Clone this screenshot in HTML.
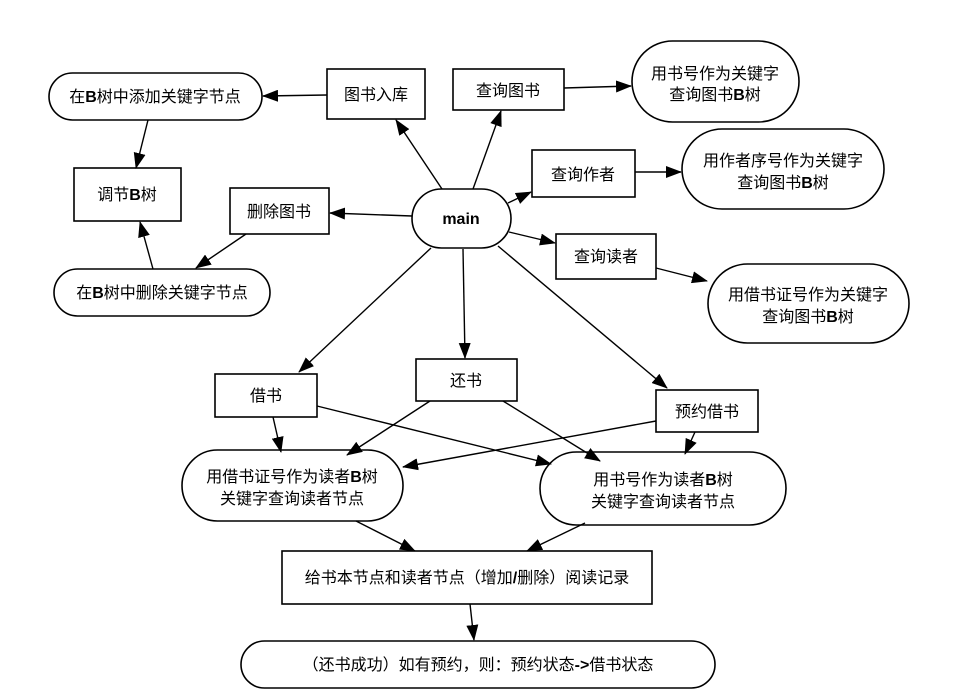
<!DOCTYPE html>
<html><head><meta charset="utf-8"><style>
html,body{margin:0;padding:0;background:#fff;}
svg{display:block;}
text{font-family:"Liberation Sans","Noto Sans CJK SC",sans-serif;font-size:16px;fill:#000;}
.b{font-weight:bold;}
</style></head><body>
<svg width="979" height="694" viewBox="0 0 979 694" xmlns="http://www.w3.org/2000/svg">
<defs><marker id="a" viewBox="0 0 16 12" refX="15" refY="6" markerWidth="16" markerHeight="12" markerUnits="userSpaceOnUse" orient="auto"><path d="M0,0 L16,6 L0,12 z" fill="#000"/></marker></defs>
<g fill="#fff" stroke="#000" stroke-width="1.6">
<rect x="49" y="73" width="213" height="47" rx="23.5"/>
<rect x="327" y="69" width="98" height="50"/>
<rect x="74" y="168" width="107" height="53"/>
<rect x="230" y="188" width="99" height="46"/>
<rect x="412" y="189" width="99" height="59" rx="29.5"/>
<rect x="54" y="269" width="216" height="47" rx="23.5"/>
<rect x="453" y="69" width="111" height="41"/>
<rect x="632" y="41" width="167" height="81" rx="40.5"/>
<rect x="532" y="150" width="103" height="47"/>
<rect x="682" y="129" width="202" height="80" rx="40"/>
<rect x="556" y="234" width="100" height="45"/>
<rect x="708" y="264" width="201" height="79" rx="39.5"/>
<rect x="215" y="374" width="102" height="43"/>
<rect x="416" y="359" width="101" height="42"/>
<rect x="656" y="390" width="102" height="42"/>
<rect x="182" y="450" width="221" height="71" rx="35.5"/>
<rect x="540" y="452" width="246" height="73" rx="36.5"/>
<rect x="282" y="551" width="370" height="53"/>
<rect x="241" y="641" width="474" height="47" rx="23.5"/>
</g>
<g stroke="#000" stroke-width="1.4" fill="none" marker-end="url(#a)">
<line x1="327" y1="95" x2="263" y2="96"/>
<line x1="148" y1="120" x2="136" y2="168"/>
<line x1="153" y1="269" x2="140" y2="222"/>
<line x1="246" y1="234" x2="196" y2="268"/>
<line x1="412" y1="216" x2="330" y2="213"/>
<line x1="442" y1="189" x2="396" y2="120"/>
<line x1="473" y1="189" x2="501" y2="111"/>
<line x1="508" y1="203" x2="531" y2="192"/>
<line x1="509" y1="232" x2="555" y2="243"/>
<line x1="564" y1="88" x2="631" y2="86"/>
<line x1="635" y1="172" x2="681" y2="172"/>
<line x1="656" y1="268" x2="707" y2="281"/>
<line x1="431" y1="248" x2="299" y2="372"/>
<line x1="463" y1="249" x2="465" y2="358"/>
<line x1="498" y1="246" x2="667" y2="388"/>
<line x1="273" y1="417" x2="281" y2="452"/>
<line x1="317" y1="406" x2="551" y2="464"/>
<line x1="430" y1="401" x2="347" y2="455"/>
<line x1="503" y1="401" x2="600" y2="461"/>
<line x1="656" y1="421" x2="403" y2="467"/>
<line x1="695" y1="432" x2="685" y2="454"/>
<line x1="356" y1="521" x2="415" y2="551"/>
<line x1="585" y1="523" x2="527" y2="551"/>
<line x1="470" y1="604" x2="474" y2="640"/>
</g>
<g text-anchor="middle">
<text x="155" y="102">在<tspan class="b">B</tspan>树中添加关键字节点</text>
<text x="376" y="100">图书入库</text>
<text x="127" y="200">调节<tspan class="b">B</tspan>树</text>
<text x="279" y="217">删除图书</text>
<text x="461" y="224" class="b">main</text>
<text x="162" y="298">在<tspan class="b">B</tspan>树中删除关键字节点</text>
<text x="508" y="96">查询图书</text>
<text x="715" y="79">用书号作为关键字</text>
<text x="715" y="100">查询图书<tspan class="b">B</tspan>树</text>
<text x="583" y="180">查询作者</text>
<text x="783" y="166">用作者序号作为关键字</text>
<text x="783" y="188">查询图书<tspan class="b">B</tspan>树</text>
<text x="606" y="262">查询读者</text>
<text x="808" y="300">用借书证号作为关键字</text>
<text x="808" y="322">查询图书<tspan class="b">B</tspan>树</text>
<text x="266" y="401">借书</text>
<text x="466" y="386">还书</text>
<text x="707" y="417">预约借书</text>
<text x="292" y="482">用借书证号作为读者<tspan class="b">B</tspan>树</text>
<text x="292" y="504">关键字查询读者节点</text>
<text x="663" y="485">用书号作为读者<tspan class="b">B</tspan>树</text>
<text x="663" y="507">关键字查询读者节点</text>
<text x="467" y="583">给书本节点和读者节点（增加<tspan class="b">/</tspan>删除）阅读记录</text>
<text x="478" y="670">（还书成功）如有预约，则：预约状态<tspan class="b">-&gt;</tspan>借书状态</text>
</g>
</svg>
</body></html>
